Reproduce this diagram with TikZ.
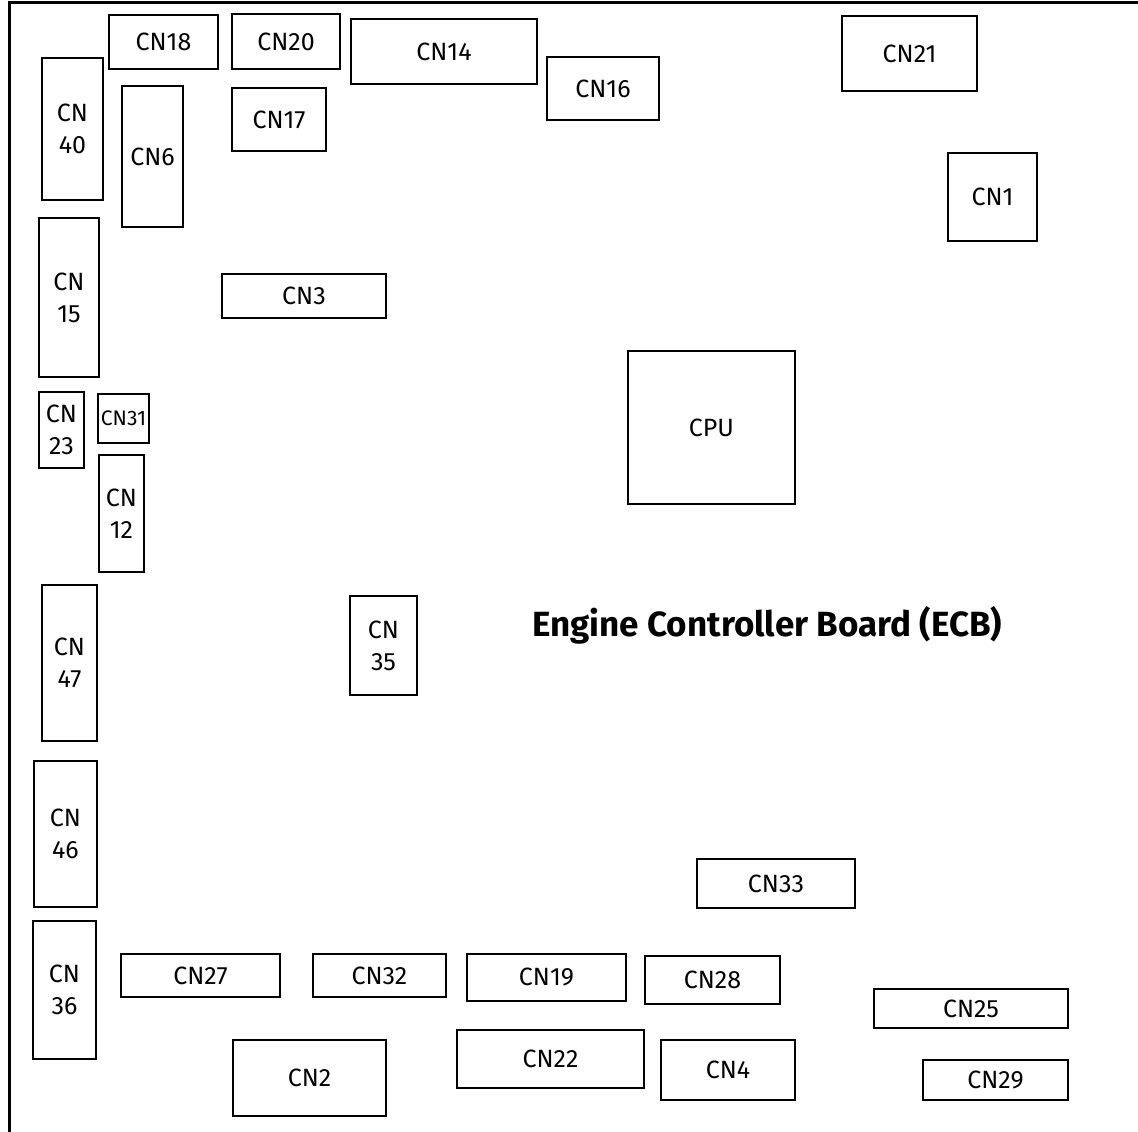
\documentclass[tikz,border=0pt]{standalone}
\usepackage{fontspec}
\setmainfont{Fira Sans}
\begin{document}
\begin{tikzpicture}[x=1pt,y=-1pt,
  cnbox/.style={draw=black, line width=2.2pt, inner sep=0pt, outer sep=0pt,
    align=center, font=\fontsize{25}{32}\selectfont},
  frameline/.style={draw=black, line width=3pt},
  titletext/.style={font=\bfseries\fontsize{35}{40}\selectfont, inner sep=0pt}]
\useasboundingbox (0,0) rectangle (1138,1132);
% board frame (top and left edges visible)
\coordinate (ftr) at (1140,3);
\coordinate (ftl) at (9,3);
\coordinate (fbl) at (9,1134);
\draw[frameline, line cap=rect] (ftr) -- (ftl) -- (fbl);
% connectors
\foreach \n/\a/\b/\c/\d/\t in {
  cn18/108/14/219/70/{CN18},
  cn20/231/13/341/70/{CN20},
  cn14/350/18/538/85/{CN14},
  cn16/546/56/660/121/{CN16},
  cn21/841/15/978/92/{CN21},
  cn1/947/152/1038/242/{CN1},
  cn40/41/57/104/201/{CN\\40},
  cn6/121/85/184/228/{CN6},
  cn17/231/87/327/152/{CN17},
  cn15/38/217/100/378/{CN\\15},
  cn3/221/273/387/319/{CN3},
  cpu/627/350/796/505/{CPU},
  cn23/38/391/85/469/{CN\\23},
  cn12/98/454/145/573/{CN\\12},
  cn47/41/584/98/742/{CN\\47},
  cn35/349/595/418/696/{CN\\35},
  cn46/33/760/98/908/{CN\\46},
  cn36/32/920/97/1060/{CN\\36},
  cn27/120/953/281/998/{CN27},
  cn32/312/953/447/998/{CN32},
  cn19/466/953/627/1002/{CN19},
  cn28/644/955/781/1005/{CN28},
  cn33/696/858/856/909/{CN33},
  cn25/873/988/1069/1029/{CN25},
  cn29/922/1059/1069/1101/{CN29},
  cn2/232/1039/387/1117/{CN2},
  cn22/456/1029/645/1089/{CN22},
  cn4/660/1039/796/1101/{CN4}}
{
  \node[cnbox, minimum width={\c-\a-2}, minimum height={\d-\b-2}]
    (\n) at ({(\a+\c)/2},{(\b+\d)/2}) {\t};
}
\node[cnbox, minimum width=51, minimum height=49, font=\fontsize{21}{24}\selectfont]
  (cn31) at (123.5,418.5) {CN31};
\node[titletext, anchor=base west] (title) at (532,636)
  {Engine Controller Board (ECB)};
\end{tikzpicture}
\end{document}
